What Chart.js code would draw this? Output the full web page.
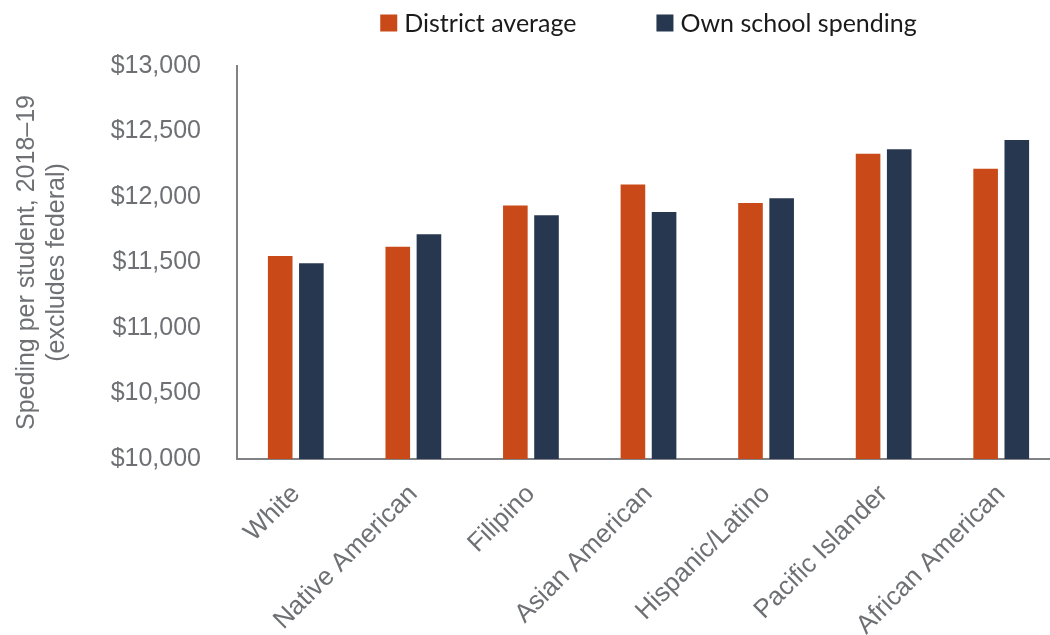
<!DOCTYPE html>
<html>
<head>
<meta charset="utf-8">
<script src="https://cdn.jsdelivr.net/npm/chart.js@4.4.1/dist/chart.umd.min.js"></script>
<style>
  html, body { margin: 0; padding: 0; background: #fff; overflow: hidden; }
  #wrap { width: 1062px; height: 635px; }
</style>
</head>
<body>
<div id="wrap"><canvas id="spend-chart" width="1062" height="635"></canvas></div>
<script>
// Per-student spending by student group, 2018-19
const groups = ['White', 'Native American', 'Filipino', 'Asian American', 'Hispanic/Latino', 'Pacific Islander', 'African American'];
const districtAvg = [11550, 11620, 11935, 12095, 11955, 12330, 12215];
const ownSchool = [11495, 11715, 11860, 11885, 11990, 12365, 12435];
const seriesNames = ['District average', 'Own school spending'];
const seriesColors = ['#c94a18', '#283750'];
const yMin = 10000, yMax = 13000, yStep = 500;

const axisGray = '#808286';
const labelGray = '#6e7074';

// Legend drawn above the plot, centred on the chart area
const topLegend = {
  id: 'topLegend',
  afterDraw(chart) {
    const { ctx, chartArea } = chart;
    const box = 17, gapText = 7, gapItem = 80;
    ctx.save();
    ctx.font = '25px Lato, "Liberation Sans", sans-serif';
    const widths = seriesNames.map(n => box + gapText + ctx.measureText(n).width);
    const total = widths.reduce((a, b) => a + b, 0) + gapItem * (widths.length - 1);
    let x = (chartArea.left + chartArea.right) / 2 - total / 2;
    const cy = 23;
    seriesNames.forEach((name, i) => {
      ctx.fillStyle = seriesColors[i];
      ctx.fillRect(x, cy - box / 2, box, box);
      ctx.fillStyle = '#1a1a1a';
      ctx.textBaseline = 'middle';
      ctx.textAlign = 'left';
      ctx.fillText(name, x + box + gapText, cy + 1);
      x += widths[i] + gapItem;
    });
    ctx.restore();
  }
};

new Chart(document.getElementById('spend-chart'), {
  type: 'bar',
  data: {
    labels: groups,
    datasets: [
      { label: seriesNames[0], data: districtAvg, backgroundColor: seriesColors[0] },
      { label: seriesNames[1], data: ownSchool, backgroundColor: seriesColors[1] }
    ]
  },
  options: {
    responsive: false,
    animation: false,
    layout: { padding: { top: 66, right: 2, left: 0, bottom: 0 } },
    datasets: { bar: { categoryPercentage: 0.53, barPercentage: 0.79 } },
    plugins: {
      legend: { display: false },
      tooltip: { enabled: false }
    },
    scales: {
      x: {
        grid: { display: false, drawTicks: false },
        border: { display: true, color: axisGray, width: 2 },
        ticks: {
          color: labelGray,
          font: { family: '"Liberation Sans", Arial, sans-serif', size: 26 },
          maxRotation: 45, minRotation: 45,
          padding: 20,
          autoSkip: false
        },
        afterFit: s => { s.height = 176; }
      },
      y: {
        min: yMin, max: yMax,
        grid: { display: false, drawTicks: false },
        border: { display: true, color: axisGray, width: 2 },
        ticks: {
          stepSize: yStep,
          color: labelGray,
          padding: 36,
          font: { family: '"Liberation Sans", Arial, sans-serif', size: 25 },
          callback: v => '$' + v.toLocaleString('en-US')
        },
        title: {
          display: true,
          text: ['Speding per student, 2018\u201319', '(excludes federal)'],
          color: labelGray,
          font: { family: '"Liberation Sans", Arial, sans-serif', size: 25, lineHeight: 1.2 },
          padding: { top: 12, bottom: 0 }
        },
        afterFit: s => { s.width = 237; }
      }
    }
  },
  plugins: [topLegend]
});
</script>
</body>
</html>
